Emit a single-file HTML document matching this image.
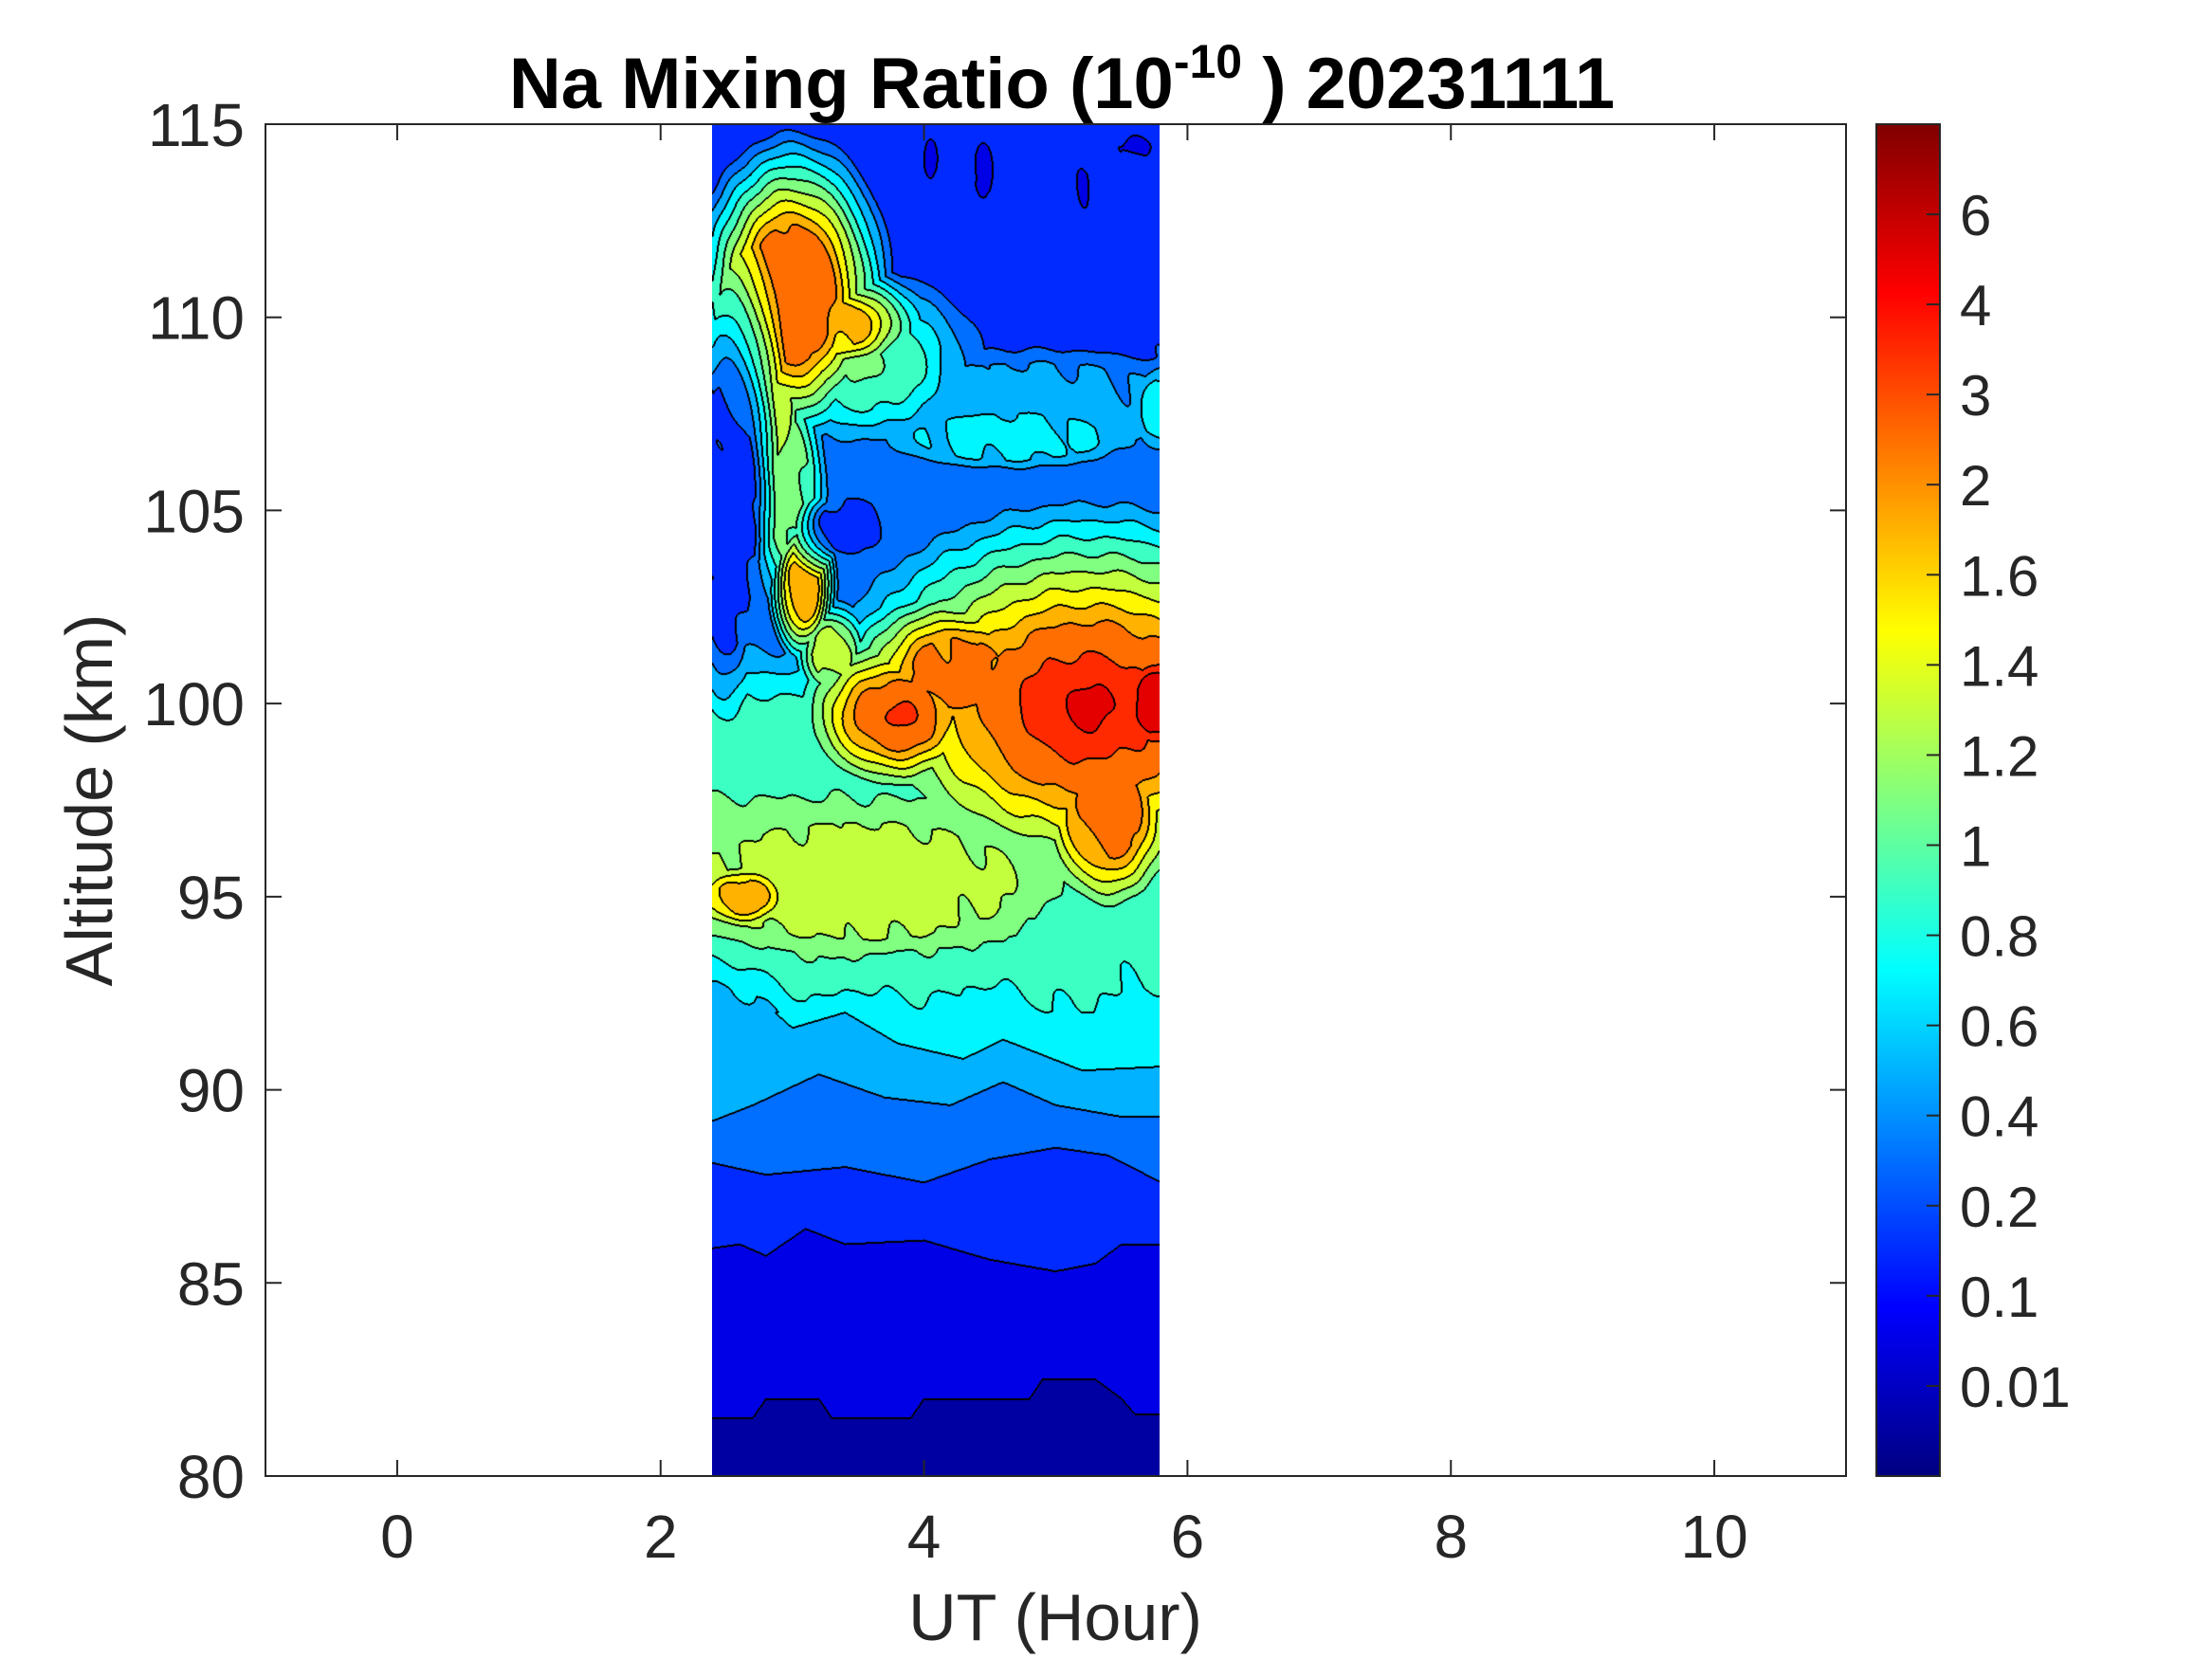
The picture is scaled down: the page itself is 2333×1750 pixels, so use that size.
<!DOCTYPE html>
<html><head><meta charset="utf-8">
<style>
html,body{margin:0;padding:0;background:#fff;}
#wrap{position:relative;width:2333px;height:1750px;overflow:hidden;background:#fff;}
#cv{position:absolute;left:751px;top:131px;}
svg{position:absolute;left:0;top:0;}
text{font-family:"Liberation Sans",Arial,sans-serif;fill:#262626;}
</style></head><body>
<div id="wrap">
<canvas id="cv" width="472" height="1426"></canvas>
<svg width="2333" height="1750" viewBox="0 0 2333 1750">
<defs>
<linearGradient id="jet" x1="0" y1="1" x2="0" y2="0">
<stop offset="0" stop-color="#000080"/>
<stop offset="0.125" stop-color="#0000ff"/>
<stop offset="0.375" stop-color="#00ffff"/>
<stop offset="0.625" stop-color="#ffff00"/>
<stop offset="0.875" stop-color="#ff0000"/>
<stop offset="1" stop-color="#800000"/>
</linearGradient>
</defs>
<g id="axes" stroke="#262626" stroke-width="2" fill="none">
<rect x="280" y="131" width="1667" height="1426"/>
</g>
<g id="ticks" stroke="#262626" stroke-width="2"></g>
<g id="labels" font-size="64"></g>
<rect x="1979" y="131" width="67" height="1426" fill="url(#jet)" stroke="#262626" stroke-width="2"/>
<g id="cbt" stroke="#262626" stroke-width="2"></g>
<g id="cbl" font-size="60"></g>
<text x="1113" y="1730" font-size="70" text-anchor="middle">UT (Hour)</text>
<text transform="translate(118,844) rotate(-90)" font-size="70" text-anchor="middle">Altitude (km)</text>
<text x="1120" y="114" font-size="76" font-weight="bold" text-anchor="middle" style="fill:#000">Na Mixing Ratio (10<tspan font-size="50" dy="-32">-10</tspan><tspan dy="32"> ) 20231111</tspan></text>
</svg>
</div>
<script>
(function(){
var NS="http://www.w3.org/2000/svg";
function el(p,tag,attrs,txt){var e=document.createElementNS(NS,tag);for(var k in attrs)e.setAttribute(k,attrs[k]);if(txt!==undefined)e.textContent=txt;p.appendChild(e);return e;}
var tk=document.getElementById('ticks'),lb=document.getElementById('labels');
function X(h){return 280+(h+1)*1667/12;}
function Y(z){return 131+(115-z)*1426/35;}
for(var h=0;h<=10;h+=2){var x=X(h);
el(tk,'line',{x1:x,y1:1557,x2:x,y2:1540});el(tk,'line',{x1:x,y1:131,x2:x,y2:148});
el(lb,'text',{x:x,y:1643,'text-anchor':'middle'},String(h));}
for(var z=80;z<=115;z+=5){var y=Y(z);
el(tk,'line',{x1:280,y1:y,x2:297,y2:y});el(tk,'line',{x1:1947,y1:y,x2:1930,y2:y});
el(lb,'text',{x:258,y:y+23,'text-anchor':'end'},String(z));}
var cbt=document.getElementById('cbt'),cbl=document.getElementById('cbl');
var labs=["0.01","0.1","0.2","0.4","0.6","0.8","1","1.2","1.4","1.6","2","3","4","6"];
for(var k=1;k<=14;k++){var yy=1557-95.07*k;
el(cbt,'line',{x1:2046,y1:yy,x2:2032,y2:yy});
el(cbl,'text',{x:2067,y:yy+22},labs[k-1]);}

function interp(a,t){if(t<=a[0][0])return a[0][1];for(var i=1;i<a.length;i++){if(t<=a[i][0]){var f=(t-a[i-1][0])/(a[i][0]-a[i-1][0]);return a[i-1][1]+f*(a[i][1]-a[i-1][1]);}}return a[a.length-1][1];}
var L=[
[[2.4,81.5],[2.7,81.5],[2.8,82],[3.2,82],[3.3,81.5],[3.9,81.5],[4,82],[4.8,82],[4.9,82.5],[5.3,82.5],[5.5,82],[5.6,81.6],[5.8,81.6]],
[[2.4,85.9],[2.6,86],[2.8,85.7],[3.1,86.4],[3.4,86],[4,86.1],[4.5,85.6],[5,85.3],[5.3,85.5],[5.5,86],[5.8,86]],
[[2.4,88.1],[2.8,87.8],[3.4,88],[4,87.6],[4.5,88.2],[5,88.5],[5.4,88.3],[5.8,87.6]],
[[2.4,89.2],[2.7,89.6],[3.2,90.4],[3.7,89.8],[4.2,89.6],[4.6,90.2],[5,89.6],[5.5,89.3],[5.8,89.3]],
[[2.4,92.7],[2.7,92.5],[3,91.6],[3.4,92],[3.8,91.2],[4.3,90.8],[4.6,91.3],[5.2,90.5],[5.8,90.6]],
[[2.4,93.4],[2.8,93],[3.1,92.3],[3.5,92.6],[4,92.3],[4.5,92.8],[5,92],[5.5,92.5],[5.8,92.8]],
[[2.4,94],[2.8,93.7],[3.3,93.4],[3.8,93.6],[4.3,93.7],[4.7,94],[5,95.5],[5.4,97],[5.8,97]]
];
var B=[[93,7.5],[97,7.5],[98,6.6],[100,6.3],[100.7,5.2],[101.2,4.2],[101.8,3.5],[106,3.3],[110,2.7],[115,2.4]];
var blobs=[
[3.5,95.4,1.2,1.5,8,0.6,4],
[2.62,95.0,0.2,0.45,10,0.6,3],
[5.25,99.9,0.85,2.2,11,2.6,5],
[5.78,100.0,0.18,0.8,13,0.8,4],
[5.4,97.2,0.25,1.2,11,0.5,4],
[4.25,100.8,0.35,0.9,11,0.3,4],
[3.8,99.7,0.33,0.9,11,1.5,4],
[3.08,103,0.12,0.9,10,0.8,5],
[3.3,101.3,0.15,0.7,8,0.5,4],
[2.98,105.5,0.15,1.8,7,0.3,3.5],
[2.85,107.8,0.14,1.4,8,0.5,4],
[3.0,110.6,0.33,1.8,11,1,6],
[3.3,109.8,0.3,0.6,10,0.3,4],
[3.55,108.8,0.45,1.2,6,1.5,3],
[4.65,106.9,0.7,0.6,5.0,0.3,3],
[5.8,107.6,0.15,0.8,5,0.2,3],
[4.8,107.7,1.2,1.1,4,0.4,3]
];
var holes=[
[3.45,104.6,0.25,0.7,3,0.6,6],
[4.05,114.1,0.05,0.5,2,0.3,8],
[4.45,113.8,0.07,0.7,2,0.3,8],
[5.2,113.3,0.05,0.6,2,0.3,8],
[5.6,114.4,0.12,0.3,2,0.3,8],
[2.5,104.8,0.22,3.5,3,0.4,6]
];
function bv(b,t,z){var dx=(t-b[0])/b[2],dz=(z-b[1])/b[3];var r=Math.sqrt(dx*dx+dz*dz);return r<1?b[4]+(1-r)*b[5]:b[4]-(r-1)*b[6];}
function hv(b,t,z){var dx=(t-b[0])/b[2],dz=(z-b[1])/b[3];var r=Math.sqrt(dx*dx+dz*dz);return r<1?b[4]-(1-r)*b[5]:b[4]+(r-1)*b[6];}
function field(t,z){
var zs=L.map(function(a){return interp(a,t);});var f=null;
if(z<zs[0])f=0.5+0.49*(z-80)/(zs[0]-80);
else{for(var k=0;k<6;k++){if(z<zs[k+1]){f=(k+1)+(z-zs[k])/(zs[k+1]-zs[k]);break;}}}
if(f===null)f=interp(B,z);
var low=z<zs[6];
for(var i=0;i<blobs.length;i++){var v=bv(blobs[i],t,z);if(v>f)f=v;}
for(var j=0;j<holes.length;j++){var w=hv(holes[j],t,z);if(w<f)f=w;}
if(!low||z>92)f+=0.2*Math.sin(t*17+z*1.3)*Math.sin(z*2.1+t*3);
return f;}
function jet(v){function c(x){return Math.max(0,Math.min(1,x));}
return [c(1.5-Math.abs(4*v-3))*255,c(1.5-Math.abs(4*v-2))*255,c(1.5-Math.abs(4*v-1))*255];}
var cols=[];for(var i=0;i<15;i++)cols.push(jet((i+0.5)/15));
var cv=document.getElementById('cv'),ctx=cv.getContext('2d');
var W=cv.width,H=cv.height;
var band=new Int8Array(W*H);
for(var y=0;y<H;y++){var z=115-(y+0.5)*35/1426;
for(var x=0;x<W;x++){var t=2.39+(x+0.5)*12/1667;
var b=Math.floor(field(t,z));if(b<0)b=0;if(b>14)b=14;band[y*W+x]=b;}}
var img=ctx.createImageData(W,H),d=img.data;
for(var y=0;y<H;y++)for(var x=0;x<W;x++){var i=y*W+x,b=band[i];
var edge=(x+1<W&&band[i+1]!==b)||(x>0&&band[i-1]!==b)||(y+1<H&&band[i+W]!==b)||(y>0&&band[i-W]!==b);
var c=edge?[0,0,0]:cols[b];var p=i*4;d[p]=c[0];d[p+1]=c[1];d[p+2]=c[2];d[p+3]=255;}
ctx.putImageData(img,0,0);
})();
</script>
</body></html>
